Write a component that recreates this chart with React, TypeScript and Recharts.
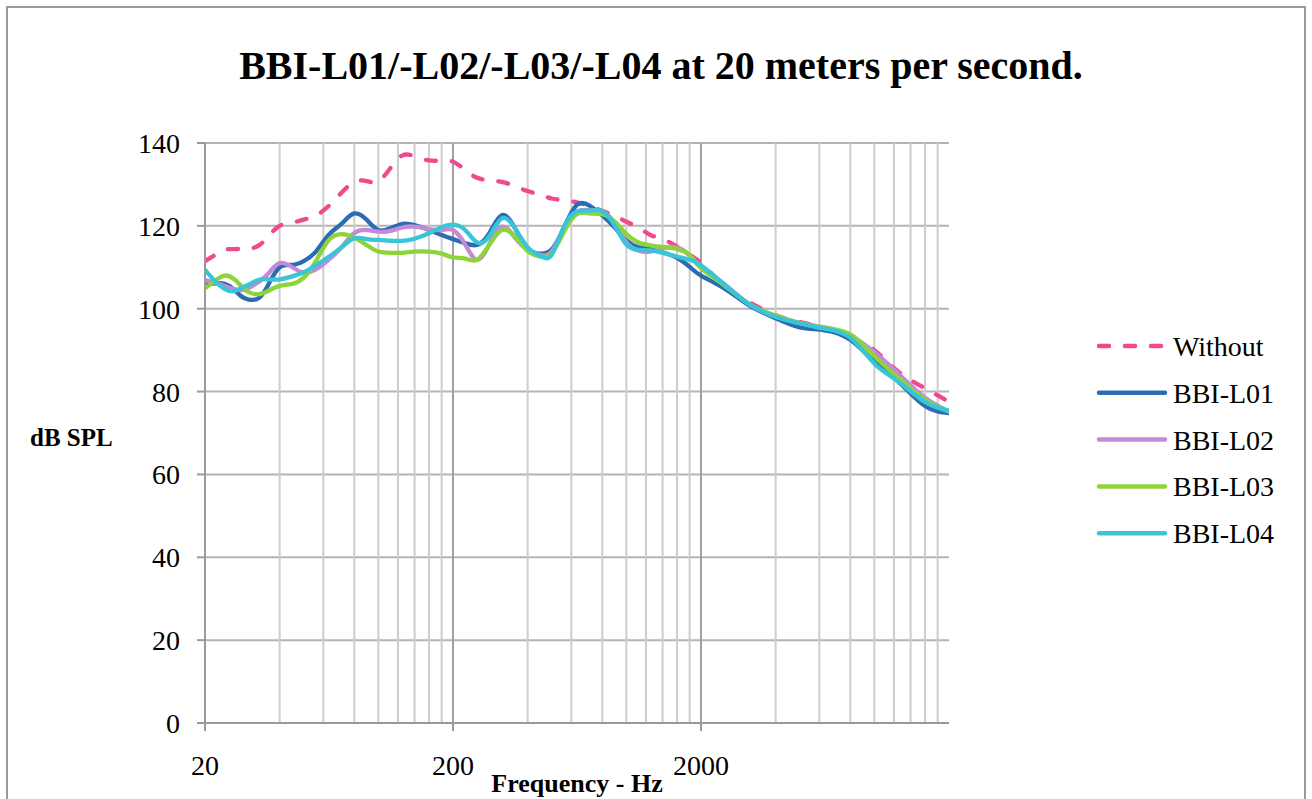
import { LineChart, Line, XAxis, YAxis, CartesianGrid, ReferenceLine, Legend, Label } from "recharts";

// frequency (Hz) at which each curve is sampled
const freqs = [
  20, 22, 24, 26, 28, 30, 33, 36, 40, 45, 50, 56, 63, 71, 80, 90, 100, 112, 125, 140, 160, 180, 200, 224, 250, 280,
  315, 355, 400, 450, 500, 560, 630, 710, 800, 900, 1000, 1120, 1250, 1400, 1600, 1800, 2000, 2500, 3150, 4000, 5000,
  6300, 8000, 10000, 12500, 16000, 20000,
];

// dB SPL
const without = [
  111.5, 113, 114.2, 114.4, 114.4, 114.4, 115.3, 117.5, 120, 120.8, 121.5, 122.5, 124.8, 128, 130.6, 130.8, 130.7, 134,
  137, 136.8, 135.8, 135.8, 135.5, 133.5, 131.6, 131, 130.6, 129.6, 128.4, 127.5, 126.6, 126.2, 125.7, 124.8, 123.6,
  122.4, 121, 119.6, 117.8, 116.8, 115, 113, 111, 105.5, 101.5, 98.4, 96.8, 95.3, 93, 90, 84.8, 80.8, 77.5,
];
const l01 = [
  105.7, 106.1, 106, 104.8, 103, 102.2, 102.6, 105.8, 110, 110.6, 111.5, 113.8, 117.8, 120.5, 123, 121.4, 119, 119.4,
  120.5, 120.2, 119, 117.8, 116.8, 115.8, 115.4, 118.2, 122.6, 119.5, 114.5, 113.3, 114.3, 119.5, 125, 124.9, 122.5,
  119.5, 116.5, 114.8, 114.4, 113.6, 112.3, 110.1, 108, 104.8, 100.7, 97.7, 95.5, 94.8, 92.5, 87.2, 82.4, 76.5, 74.8,
];
const l02 = [
  106.9, 106.3, 105.5, 104.8, 104.5, 105, 106.5, 108.5, 111, 110, 108.7, 109.5, 111.8, 114.8, 118.3, 119, 118.6, 118.8,
  119.6, 119.8, 119.2, 119, 119, 115.5, 111.8, 115.5, 119.8, 117.2, 114.2, 113, 113.8, 119.5, 123.4, 123.8, 123.4,
  120.5, 116, 114, 113.8, 114.5, 114.8, 112.8, 110, 105.8, 101, 98.3, 96.5, 95.5, 93.5, 89.5, 84.3, 78.5, 75.2,
];
const l03 = [
  104.9, 106.8, 108, 107.3, 105.5, 104, 103.5, 104.3, 105.5, 106, 107.5, 111.5, 116.5, 118, 117.2, 115.3, 113.8, 113.5,
  113.5, 113.8, 113.8, 113.3, 112.4, 112.1, 111.8, 115.4, 119, 117.5, 113.9, 112.6, 113.4, 118.5, 122.8, 123, 122.8,
  121, 118, 116, 115.3, 114.9, 114.4, 113, 109.8, 105.5, 101, 98.3, 96.6, 95.4, 93.8, 88.6, 83.3, 78, 75.2,
];
const l04 = [
  109.4, 106.6, 104.8, 104.2, 105, 105.8, 107, 107.1, 107.1, 107.8, 108.8, 110.5, 112.5, 114.8, 117, 116.8, 116.6,
  116.4, 116.4, 116.9, 118.2, 119.7, 120.3, 119, 116, 117.5, 121.8, 119.5, 114.8, 112.7, 113, 119.8, 123.4, 123.7,
  123.5, 120, 115.5, 114.2, 114.1, 113.5, 112.6, 111.8, 110.5, 105.7, 101, 98, 96.5, 95.2, 93, 86.8, 82.4, 77.5, 75.4,
];

const yTicks = [0, 20, 40, 60, 80, 100, 120, 140];
const xTicks = [20, 200, 2000];
const majorLines = [200, 2000];
const minorLines = xTicks.flatMap((d) => [2, 3, 4, 5, 6, 7, 8, 9].map((m) => d * m));

const series = [
  { key: "without", name: "Without", color: "#ee4a8d", dash: "10 16" },
  { key: "l01", name: "BBI-L01", color: "#2c6db2", dash: undefined },
  { key: "l02", name: "BBI-L02", color: "#c48ad8", dash: undefined },
  { key: "l03", name: "BBI-L03", color: "#8dd43a", dash: undefined },
  { key: "l04", name: "BBI-L04", color: "#38c5d8", dash: undefined },
];

const data = freqs.map((f, i) => ({
  f,
  without: without[i],
  l01: l01[i],
  l02: l02[i],
  l03: l03[i],
  l04: l04[i],
}));

const FONT = '"Liberation Serif", "DejaVu Serif", serif';

function LegendBox() {
  return (
    <svg width={200} height={240}>
      {series.map((s, i) => (
        <g key={s.key} transform={`translate(0, ${i * 46.8})`}>
          <line
            x1={6}
            y1={20}
            x2={72}
            y2={20}
            stroke={s.color}
            strokeWidth={4.5}
            strokeLinecap="round"
            strokeDasharray={s.dash}
          />
          <text x={80} y={30} fontSize={28} fill="#000" fontFamily={FONT}>
            {s.name}
          </text>
        </g>
      ))}
    </svg>
  );
}

export default function App() {
  return (
    <div
      style={{
        position: "absolute",
        left: 0,
        top: 0,
        width: 1312,
        height: 799,
        background: "#fff",
        overflow: "hidden",
        fontFamily: FONT,
      }}
    >
      <div
        style={{
          position: "absolute",
          left: 6,
          top: 6,
          width: 1296,
          height: 820,
          border: "2px solid #9a9a9a",
        }}
      />
      <div
        style={{
          position: "absolute",
          left: 0,
          top: 46,
          width: 1322,
          textAlign: "center",
          fontSize: 40,
          lineHeight: "40px",
          fontWeight: "bold",
          color: "#000",
        }}
      >
        BBI-L01/-L02/-L03/-L04 at 20 meters per second.
      </div>
      <div style={{ position: "absolute", left: 0, top: 0 }}>
        <LineChart width={1312} height={799} data={data} margin={{ top: 143, right: 363, left: 0, bottom: 0 }}>
          <CartesianGrid vertical={false} stroke="#b4b4b4" strokeWidth={2} />
          {minorLines.map((v) => (
            <ReferenceLine key={v} x={v} stroke={majorLines.includes(v) ? "#a0a0a0" : "#cdcdcd"} strokeWidth={2} />
          ))}
          {majorLines.map((v) => (
            <ReferenceLine key={"M" + v} x={v} stroke="#a0a0a0" strokeWidth={2} />
          ))}
          <XAxis
            dataKey="f"
            type="number"
            scale="log"
            domain={[20, 20000]}
            ticks={xTicks}
            allowDataOverflow
            height={76}
            stroke="#9a9a9a"
            strokeWidth={2}
            tickSize={8}
            tickMargin={24}
            tick={{ fill: "#000", fontSize: 28 }}
          >
            <Label value="Frequency - Hz" position="insideBottom" offset={7} fontSize={26} fontWeight="bold" fill="#000" />
          </XAxis>
          <YAxis
            type="number"
            domain={[0, 140]}
            ticks={yTicks}
            width={205}
            stroke="#9a9a9a"
            strokeWidth={2}
            tickSize={8}
            tickMargin={17}
            tick={{ fill: "#000", fontSize: 28 }}
          >
            <Label value="dB SPL" position="insideLeft" offset={30} dy={4} fontSize={25} fontWeight="bold" fill="#000" />
          </YAxis>
          {series.map((s) => (
            <Line
              key={s.key}
              dataKey={s.key}
              name={s.name}
              type="natural"
              stroke={s.color}
              strokeWidth={4.3}
              strokeDasharray={s.dash}
              strokeLinecap="round"
              dot={false}
              activeDot={false}
              isAnimationActive={false}
            />
          ))}
          <Legend
            layout="vertical"
            align="center"
            verticalAlign="middle"
            content={() => <LegendBox />}
            wrapperStyle={{ position: "absolute", left: 1093, top: 326, width: 200, height: 240 }}
          />
        </LineChart>
      </div>
    </div>
  );
}
